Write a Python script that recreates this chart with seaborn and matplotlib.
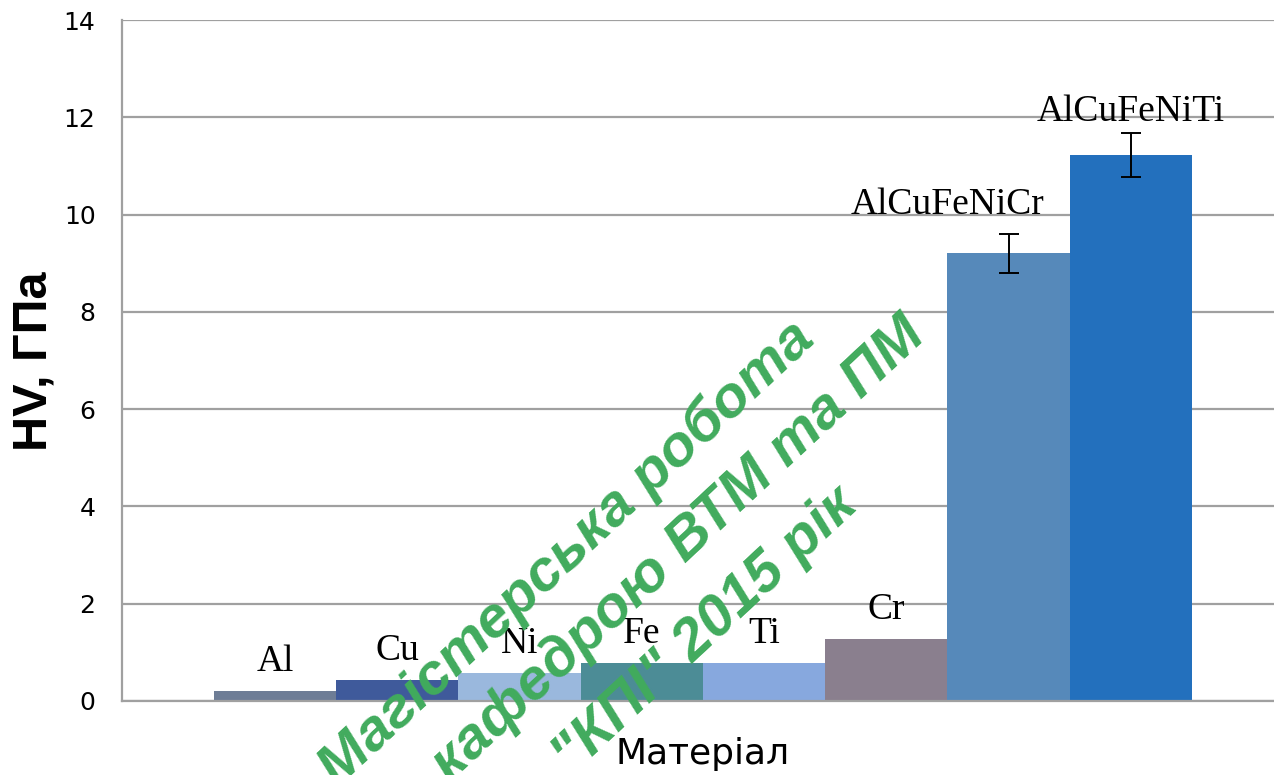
import pandas as pd
import numpy as np
import seaborn as sns
import matplotlib.pyplot as plt

# Vickers hardness of pure metals and HEA alloys
materials = ['Al', 'Cu', 'Ni', 'Fe', 'Ti', 'Cr', 'AlCuFeNiCr', 'AlCuFeNiTi']
hv = [0.2, 0.43, 0.58, 0.78, 0.78, 1.28, 9.2, 11.23]
hv_err = [0, 0, 0, 0, 0, 0, 0.41, 0.45]
bar_colors = ['#6E7D96', '#3F5A9B', '#9AB8DD', '#4C8C96',
              '#87A8DE', '#8A7F8E', '#5689BA', '#2370BD']

watermark = ['Магістерська робота', 'кафедрою ВТМ та ПМ', '"КПІ" 2015 рік']

df = pd.DataFrame({
    'group': [''] * len(materials),
    'Material': materials,
    'HV': hv,
    'err': hv_err
})

sns.set_style('white')
plt.rcParams['font.family'] = ['DejaVu Sans']
plt.rcParams['text.color'] = 'black'
plt.rcParams['axes.labelcolor'] = 'black'
plt.rcParams['ytick.color'] = 'black'

fig = plt.figure(figsize=(12.74, 7.75), dpi=100)
ax = fig.add_axes([122 / 1274, 1 - 701 / 775, 1 - 122 / 1274, (701 - 20) / 775])

sns.barplot(
    data=df,
    x='group',
    y='HV',
    hue='Material',
    palette=bar_colors,
    saturation=1,
    width=0.8,
    gap=0,
    linewidth=0,
    legend=False,
    ax=ax
)

# the alloy labels were moved by hand in the original (offset in points)
label_shift = {'AlCuFeNiCr': (-44, 21), 'AlCuFeNiTi': (0, 15)}

# error bars and labels on top of each bar
bars = sorted(ax.patches, key=lambda p: p.get_x())
for bar, name, val, err in zip(bars, materials, hv, hv_err):
    xc = bar.get_x() + bar.get_width() / 2
    if err > 0:
        ax.errorbar(xc, val, yerr=err, fmt='none', ecolor='black',
                    elinewidth=1.4, capsize=7, capthick=1.4, zorder=4)
    ax.annotate(name, (xc, val + err),
                xytext=label_shift.get(name, (0, 21)),
                textcoords='offset points', ha='center', va='center',
                fontsize=27, family='Liberation Serif', zorder=5)

ax.set_ylim(0, 14)
ax.set_yticks(np.arange(0, 15, 2))
ax.set_xlim(-0.475, 0.467)
ax.set_xticks([])
ax.yaxis.grid(True, color='#A0A0A0', linewidth=1.6)
ax.set_axisbelow(True)
ax.tick_params(axis='y', labelsize=18, length=0, pad=19)

for side in ['top', 'right']:
    ax.spines[side].set_visible(False)
for side in ['left', 'bottom']:
    ax.spines[side].set_color('#A0A0A0')
    ax.spines[side].set_linewidth(1.6)

ax.set_ylabel('HV, ГПа', fontsize=35, fontweight='bold',
              family='Liberation Sans')
ax.yaxis.set_label_coords((57 - 122) / 1152, 0.499)
ax.set_xlabel('Матеріал', fontsize=26)
ax.xaxis.set_label_coords((703 - 122) / 1152, -0.053)

# green diagonal watermark
ends = [(817, 342), (927, 338), (860, 508)]
for line, (px, py) in zip(watermark, ends):
    fig.text(px / 1274, 1 - py / 775, line, rotation=43,
             rotation_mode='anchor', ha='right', va='baseline',
             fontsize=42, fontweight='bold', style='italic',
             family='Liberation Sans', color='#41AB5D', zorder=10)

plt.savefig('out.png', dpi=100)
